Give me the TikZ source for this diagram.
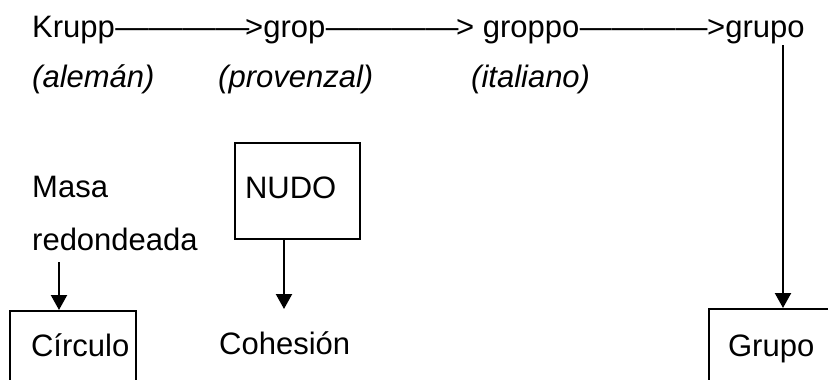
\documentclass[tikz,border=0pt]{standalone}
\usepackage{fontspec}
\setmainfont{Liberation Sans}
\usepackage{graphicx}
\usetikzlibrary{arrows.meta}
\begin{document}
\begin{tikzpicture}[x=1pt,y=-1pt,
  every node/.style={inner sep=0pt, font=\fontsize{31pt}{36pt}\selectfont},
  word/.style={anchor=base west},
  gloss/.style={anchor=base west, font=\fontsize{31pt}{36pt}\selectfont\itshape},
  boxed/.style={draw, line width=2.2pt, anchor=north west, inner sep=0pt, align=left},
  conn/.style={line width=2.2pt, -{Triangle[length=15pt,width=16pt]}}]
\useasboundingbox (0,0) rectangle (828,380);
% top row
\node[word] (krupp) at (32,37) {Krupp};
\node[word] (d1) at (krupp.base east) {\scalebox{1.08}[1]{————}};
\node[word] (grop) at (245,37) {>grop};
\node[word] (d2) at (grop.base east) {\scalebox{1.07}[1]{————}};
\node[word] (groppo) at (456,37) {> groppo};
\node[word] (d3) at (groppo.base east) {\scalebox{1.03}[1]{————}};
\node[word] (grupo) at (707,37) {>grupo};
% glosses
\node[gloss] (aleman) at (32,87) {(alemán)};
\node[gloss] (provenzal) at (218,87) {(provenzal)};
\node[gloss] (italiano) at (471,87) {(italiano)};
% left column
\node[word] (masa) at (32,197) {Masa};
\node[word] (redond) at (32,250) {redondeada};
\node[boxed, text width=126pt, text height=45pt, text depth=40pt] (circbox) at (9,310) {\hspace*{21pt}Círculo};
% middle column
\node[boxed, text width=125pt, text height=55pt, text depth=41pt] (nudo) at (234,142) {\hspace*{10pt}NUDO};
\node[word] (cohesion) at (219,354) {Cohesión};
% right column
\node[boxed, text width=150pt, text height=47pt, text depth=40pt] (grupobox) at (708,308) {\hspace*{19pt}Grupo};
% connectors
\coordinate (a1) at (59,262);
\draw[conn] (a1) -- (a1 |- circbox.north);
\coordinate (c1) at (284,309);
\draw[conn] (nudo.south -| c1) -- (c1);
\coordinate (g1) at (783,45);
\draw[conn] (g1) -- (g1 |- grupobox.north);
\end{tikzpicture}
\end{document}
